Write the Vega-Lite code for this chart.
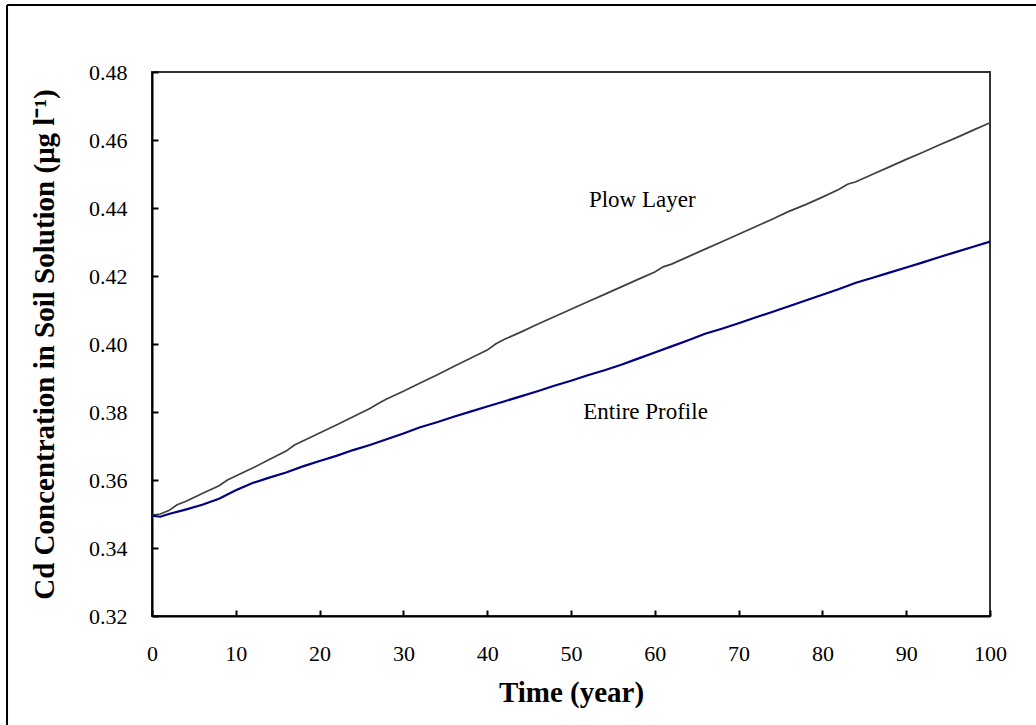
{
  "$schema": "https://vega.github.io/schema/vega-lite/v6.json",
  "width": 838,
  "height": 544,
  "autosize": {"type": "none"},
  "padding": {"left": 152, "top": 72, "right": 46, "bottom": 109},
  "background": "white",
  "config": {
    "view": {"stroke": "#333333", "strokeWidth": 2},
    "font": "Liberation Serif",
    "axis": {
      "grid": false,
      "domainColor": "black",
      "domainWidth": 2,
      "tickColor": "black",
      "tickWidth": 2,
      "tickSize": -6,
      "labelFont": "Liberation Serif",
      "labelFontSize": 22,
      "labelColor": "black",
      "titleFont": "Liberation Serif",
      "titleFontSize": 29,
      "titleFontWeight": "bold",
      "titleColor": "black"
    }
  },
  "datasets": {
    "lines": [
      {"series": "Plow Layer", "t": 0, "v": 0.3497},
      {"series": "Plow Layer", "t": 1, "v": 0.35},
      {"series": "Plow Layer", "t": 2, "v": 0.351},
      {"series": "Plow Layer", "t": 3, "v": 0.3527},
      {"series": "Plow Layer", "t": 4, "v": 0.3537},
      {"series": "Plow Layer", "t": 6, "v": 0.356},
      {"series": "Plow Layer", "t": 8, "v": 0.3583},
      {"series": "Plow Layer", "t": 9, "v": 0.36},
      {"series": "Plow Layer", "t": 10, "v": 0.3612},
      {"series": "Plow Layer", "t": 12, "v": 0.3635},
      {"series": "Plow Layer", "t": 14, "v": 0.366},
      {"series": "Plow Layer", "t": 16, "v": 0.3685},
      {"series": "Plow Layer", "t": 17, "v": 0.3703},
      {"series": "Plow Layer", "t": 18, "v": 0.3715},
      {"series": "Plow Layer", "t": 20, "v": 0.3738},
      {"series": "Plow Layer", "t": 22, "v": 0.3762},
      {"series": "Plow Layer", "t": 24, "v": 0.3786},
      {"series": "Plow Layer", "t": 26, "v": 0.381},
      {"series": "Plow Layer", "t": 27, "v": 0.3825},
      {"series": "Plow Layer", "t": 28, "v": 0.3838},
      {"series": "Plow Layer", "t": 30, "v": 0.3861},
      {"series": "Plow Layer", "t": 32, "v": 0.3885},
      {"series": "Plow Layer", "t": 34, "v": 0.3909},
      {"series": "Plow Layer", "t": 36, "v": 0.3934},
      {"series": "Plow Layer", "t": 38, "v": 0.3958},
      {"series": "Plow Layer", "t": 40, "v": 0.3982},
      {"series": "Plow Layer", "t": 41, "v": 0.4},
      {"series": "Plow Layer", "t": 42, "v": 0.4013},
      {"series": "Plow Layer", "t": 44, "v": 0.4035},
      {"series": "Plow Layer", "t": 46, "v": 0.4058},
      {"series": "Plow Layer", "t": 48, "v": 0.408},
      {"series": "Plow Layer", "t": 50, "v": 0.4102},
      {"series": "Plow Layer", "t": 52, "v": 0.4124},
      {"series": "Plow Layer", "t": 54, "v": 0.4146},
      {"series": "Plow Layer", "t": 56, "v": 0.4168},
      {"series": "Plow Layer", "t": 58, "v": 0.419},
      {"series": "Plow Layer", "t": 60, "v": 0.4212},
      {"series": "Plow Layer", "t": 61, "v": 0.4227},
      {"series": "Plow Layer", "t": 62, "v": 0.4235},
      {"series": "Plow Layer", "t": 64, "v": 0.4257},
      {"series": "Plow Layer", "t": 66, "v": 0.4279},
      {"series": "Plow Layer", "t": 68, "v": 0.4301},
      {"series": "Plow Layer", "t": 70, "v": 0.4323},
      {"series": "Plow Layer", "t": 72, "v": 0.4345},
      {"series": "Plow Layer", "t": 74, "v": 0.4367},
      {"series": "Plow Layer", "t": 76, "v": 0.439},
      {"series": "Plow Layer", "t": 78, "v": 0.441},
      {"series": "Plow Layer", "t": 80, "v": 0.4432},
      {"series": "Plow Layer", "t": 82, "v": 0.4455},
      {"series": "Plow Layer", "t": 83, "v": 0.447},
      {"series": "Plow Layer", "t": 84, "v": 0.4477},
      {"series": "Plow Layer", "t": 86, "v": 0.4499},
      {"series": "Plow Layer", "t": 88, "v": 0.4521},
      {"series": "Plow Layer", "t": 90, "v": 0.4543},
      {"series": "Plow Layer", "t": 92, "v": 0.4564},
      {"series": "Plow Layer", "t": 94, "v": 0.4586},
      {"series": "Plow Layer", "t": 96, "v": 0.4607},
      {"series": "Plow Layer", "t": 98, "v": 0.4629},
      {"series": "Plow Layer", "t": 100, "v": 0.4651},
      {"series": "Entire Profile", "t": 0, "v": 0.3495},
      {"series": "Entire Profile", "t": 1, "v": 0.3492},
      {"series": "Entire Profile", "t": 2, "v": 0.35},
      {"series": "Entire Profile", "t": 4, "v": 0.3513},
      {"series": "Entire Profile", "t": 6, "v": 0.3527},
      {"series": "Entire Profile", "t": 8, "v": 0.3545},
      {"series": "Entire Profile", "t": 10, "v": 0.357},
      {"series": "Entire Profile", "t": 12, "v": 0.3591},
      {"series": "Entire Profile", "t": 14, "v": 0.3607},
      {"series": "Entire Profile", "t": 16, "v": 0.3622},
      {"series": "Entire Profile", "t": 18, "v": 0.364},
      {"series": "Entire Profile", "t": 20, "v": 0.3656},
      {"series": "Entire Profile", "t": 22, "v": 0.3671},
      {"series": "Entire Profile", "t": 24, "v": 0.3688},
      {"series": "Entire Profile", "t": 26, "v": 0.3703},
      {"series": "Entire Profile", "t": 28, "v": 0.372},
      {"series": "Entire Profile", "t": 30, "v": 0.3737},
      {"series": "Entire Profile", "t": 32, "v": 0.3755},
      {"series": "Entire Profile", "t": 34, "v": 0.377},
      {"series": "Entire Profile", "t": 36, "v": 0.3786},
      {"series": "Entire Profile", "t": 38, "v": 0.3801},
      {"series": "Entire Profile", "t": 40, "v": 0.3816},
      {"series": "Entire Profile", "t": 42, "v": 0.3831},
      {"series": "Entire Profile", "t": 44, "v": 0.3846},
      {"series": "Entire Profile", "t": 46, "v": 0.3861},
      {"series": "Entire Profile", "t": 48, "v": 0.3877},
      {"series": "Entire Profile", "t": 50, "v": 0.3892},
      {"series": "Entire Profile", "t": 52, "v": 0.3908},
      {"series": "Entire Profile", "t": 54, "v": 0.3923},
      {"series": "Entire Profile", "t": 56, "v": 0.3939},
      {"series": "Entire Profile", "t": 58, "v": 0.3957},
      {"series": "Entire Profile", "t": 60, "v": 0.3975},
      {"series": "Entire Profile", "t": 62, "v": 0.3993},
      {"series": "Entire Profile", "t": 64, "v": 0.4011},
      {"series": "Entire Profile", "t": 66, "v": 0.403},
      {"series": "Entire Profile", "t": 68, "v": 0.4045},
      {"series": "Entire Profile", "t": 70, "v": 0.4061},
      {"series": "Entire Profile", "t": 72, "v": 0.4078},
      {"series": "Entire Profile", "t": 74, "v": 0.4094},
      {"series": "Entire Profile", "t": 76, "v": 0.4111},
      {"series": "Entire Profile", "t": 78, "v": 0.4128},
      {"series": "Entire Profile", "t": 80, "v": 0.4145},
      {"series": "Entire Profile", "t": 82, "v": 0.4162},
      {"series": "Entire Profile", "t": 84, "v": 0.418},
      {"series": "Entire Profile", "t": 86, "v": 0.4195},
      {"series": "Entire Profile", "t": 88, "v": 0.421},
      {"series": "Entire Profile", "t": 90, "v": 0.4225},
      {"series": "Entire Profile", "t": 92, "v": 0.424},
      {"series": "Entire Profile", "t": 94, "v": 0.4256},
      {"series": "Entire Profile", "t": 96, "v": 0.4271},
      {"series": "Entire Profile", "t": 98, "v": 0.4286},
      {"series": "Entire Profile", "t": 100, "v": 0.4301}
    ],
    "labels": [
      {"t": 58.5, "v": 0.4424, "label": "Plow Layer"},
      {"t": 58.9, "v": 0.38, "label": "Entire Profile"}
    ],
    "frame": [
      {"x": -17.3, "x2": -17.3, "y": 0.4997, "y2": 0.2},
      {"x": -17.3, "x2": 130, "y": 0.4997, "y2": 0.4997}
    ]
  },
  "layer": [
    {
      "data": {"name": "lines"},
      "mark": {"type": "line", "interpolate": "linear"},
      "encoding": {
        "x": {
          "field": "t", "type": "quantitative",
          "scale": {"domain": [0, 100], "nice": false, "zero": false},
          "axis": {
            "title": "Time (year)",
            "values": [0, 10, 20, 30, 40, 50, 60, 70, 80, 90, 100],
            "labelFlush": false,
            "labelPadding": 33,
            "titlePadding": 14
          }
        },
        "y": {
          "field": "v", "type": "quantitative",
          "scale": {"domain": [0.32, 0.48], "nice": false, "zero": false},
          "axis": {
            "title": "Cd Concentration in Soil Solution (μg l⁻¹)",
            "values": [0.32, 0.34, 0.36, 0.38, 0.40, 0.42, 0.44, 0.46, 0.48],
            "format": ".2f",
            "labelPadding": 31,
            "titlePadding": 29
          }
        },
        "color": {
          "field": "series", "type": "nominal",
          "scale": {"domain": ["Plow Layer", "Entire Profile"], "range": ["#3f3f3f", "#000080"]},
          "legend": null
        },
        "strokeWidth": {
          "field": "series", "type": "nominal",
          "scale": {"domain": ["Plow Layer", "Entire Profile"], "range": [1.7, 2.2]},
          "legend": null
        }
      }
    },
    {
      "data": {"name": "labels"},
      "mark": {"type": "text", "font": "Liberation Serif", "fontSize": 23, "color": "black", "align": "center", "baseline": "middle"},
      "encoding": {
        "x": {"field": "t", "type": "quantitative", "scale": {"domain": [0, 100], "nice": false, "zero": false}},
        "y": {"field": "v", "type": "quantitative", "scale": {"domain": [0.32, 0.48], "nice": false, "zero": false}},
        "text": {"field": "label"}
      }
    },
    {
      "data": {"name": "frame"},
      "mark": {"type": "rule", "color": "black", "strokeWidth": 2},
      "encoding": {
        "x": {"field": "x", "type": "quantitative", "scale": {"domain": [0, 100], "nice": false, "zero": false}},
        "x2": {"field": "x2"},
        "y": {"field": "y", "type": "quantitative", "scale": {"domain": [0.32, 0.48], "nice": false, "zero": false}},
        "y2": {"field": "y2"}
      }
    }
  ]
}
